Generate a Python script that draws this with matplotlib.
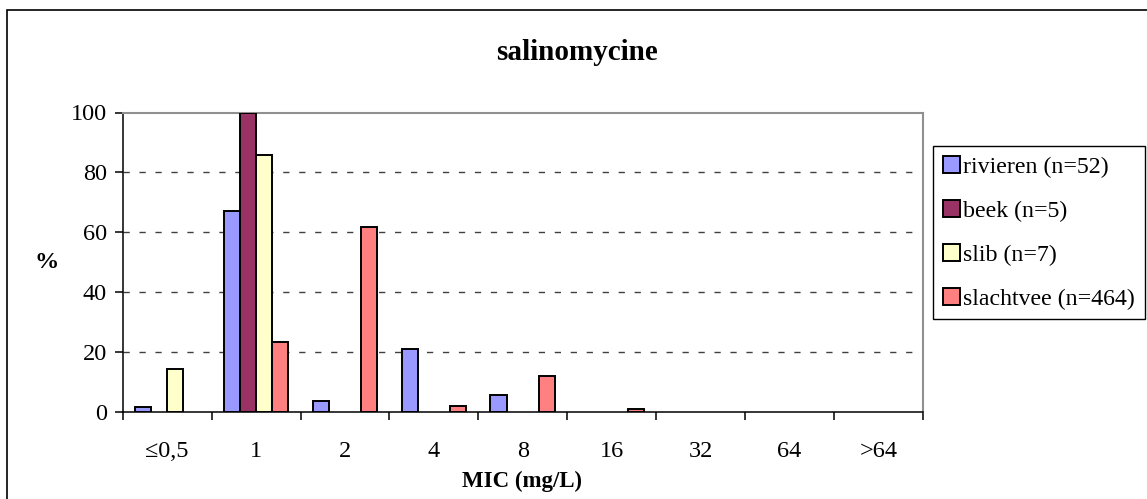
import numpy as np
import matplotlib.pyplot as plt
from matplotlib.patches import Rectangle

plt.rcParams['font.family'] = ['Liberation Serif', 'DejaVu Serif']

# ---- data (percent of isolates per MIC class) ----
categories = ["\u22640,5", "1", "2", "4", "8", "16", "32", "64", ">64"]
rivieren  = [1.9, 67.3, 3.8, 21.2, 5.8, 0, 0, 0, 0]
beek      = [0, 100.0, 0, 0, 0, 0, 0, 0, 0]
slib      = [14.3, 85.7, 0, 0, 0, 0, 0, 0, 0]
slachtvee = [0, 23.3, 61.8, 2.0, 12.0, 1.2, 0, 0, 0]
series_labels = ["rivieren (n=52)", "beek (n=5)", "slib (n=7)", "slachtvee (n=464)"]
colors = ["#9999FF", "#993366", "#FFFFCC", "#FF8080"]

W, H = 1147, 499
fig = plt.figure(figsize=(W / 100, H / 100), dpi=100)
ax = fig.add_axes([122.7 / W, 1 - 412.3 / H, (923 - 122.7) / W, (412.3 - 112.5) / H])

x = np.arange(len(categories))
bw = 0.182
offsets = (np.arange(4) - 1.5) * bw
for vals, off, col, lab in zip([rivieren, beek, slib, slachtvee], offsets, colors, series_labels):
    v = np.array(vals, dtype=float)
    v[v == 0] = np.nan  # Excel draws nothing for empty classes
    ax.bar(x + off, v, width=bw, color=col, edgecolor="black", linewidth=1.4, label=lab, zorder=3)

ax.set_xlim(-0.5, len(categories) - 0.5)
ax.set_ylim(0, 100)
ax.set_yticks([0, 20, 40, 60, 80, 100])

# category boundaries as major ticks, labels on centres
ax.set_xticks(np.arange(len(categories) + 1) - 0.5)
ax.set_xticklabels([])
ax.set_xticks(x, minor=True)
ax.set_xticklabels(categories, minor=True)
ax.tick_params(axis="x", which="major", length=5.5, width=1.1, direction="out")
ax.tick_params(axis="x", which="minor", length=0, pad=21, labelsize=17.5)
ax.tick_params(axis="y", length=5.5, width=1.1, pad=6, labelsize=17.5)

for yv in [20, 40, 60, 80]:
    ax.axhline(yv, color="#404040", lw=1.0, ls=(0, (4.5, 7)), zorder=1)

for s in ["left", "bottom"]:
    ax.spines[s].set_color("black")
    ax.spines[s].set_linewidth(1.1)
for s in ["top", "right"]:
    ax.spines[s].set_color("#909090")
    ax.spines[s].set_linewidth(1.5)

fig.text(577 / W, 1 - 52 / H, "salinomycine", ha="center", va="center", fontsize=21, fontweight="bold")
fig.text(522 / W, 1 - 481 / H, "MIC (mg/L)", ha="center", va="center", fontsize=16.5, fontweight="bold")
fig.text(46.7 / W, 1 - 263 / H, "%", ha="center", va="center", fontsize=17.5, fontweight="bold")

leg = ax.legend(loc="upper left", bbox_to_anchor=(933 / W, 1 - 146 / H), bbox_transform=fig.transFigure,
                borderaxespad=0, fontsize=17.2, handlelength=0.75, handleheight=0.75, handletextpad=0.12,
                labelspacing=0.92, borderpad=0.4, fancybox=False, framealpha=1, edgecolor="black")
leg.get_frame().set_linewidth(1.0)

# outer chart frame (runs off the right/bottom of the picture)
fig.patches.append(Rectangle((7 / W, -0.05), 1.2, 1.05 - 10 / H, transform=fig.transFigure,
                             fill=False, edgecolor="black", linewidth=1.2))

fig.savefig("out.png", dpi=100)
